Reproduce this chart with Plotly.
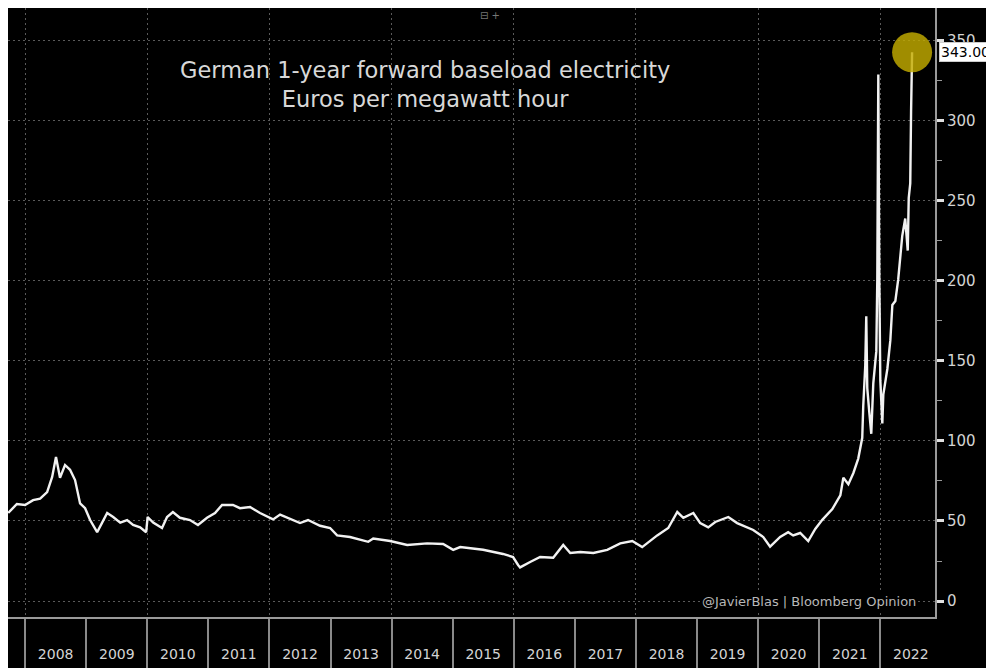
import plotly.graph_objects as go

dates = [
    "2007-09-22", "2007-11-13", "2008-01-01", "2008-02-18", "2008-03-31", "2008-05-12",
    "2008-06-11", "2008-07-04", "2008-07-28", "2008-08-27", "2008-09-26", "2008-10-26",
    "2008-11-25", "2008-12-25", "2009-01-24", "2009-03-07", "2009-04-06", "2009-05-06",
    "2009-06-11", "2009-07-23", "2009-09-02", "2009-10-08", "2009-11-19", "2009-12-25",
    "2010-01-03", "2010-02-05", "2010-03-30", "2010-04-29", "2010-06-03", "2010-07-15",
    "2010-09-13", "2010-10-31", "2010-12-24", "2011-02-10", "2011-03-24", "2011-05-28",
    "2011-07-09", "2011-08-26", "2011-09-07", "2011-11-06", "2012-01-23", "2012-03-05",
    "2012-07-02", "2012-08-19", "2012-10-30", "2012-12-29", "2013-02-09", "2013-04-27",
    "2013-08-14", "2013-09-13", "2013-12-23", "2014-04-04", "2014-08-01", "2014-11-05",
    "2015-01-04", "2015-02-15", "2015-07-02", "2015-10-29", "2015-12-28", "2016-01-27",
    "2016-02-08", "2016-04-08", "2016-06-07", "2016-08-24", "2016-10-23", "2016-12-04",
    "2017-02-02", "2017-04-21", "2017-07-13", "2017-09-29", "2017-12-10", "2018-02-07",
    "2018-05-08", "2018-07-13", "2018-09-05", "2018-10-11", "2018-12-10", "2019-01-20",
    "2019-03-09", "2019-04-20", "2019-07-07", "2019-08-29", "2019-12-03", "2020-02-01",
    "2020-03-13", "2020-05-12", "2020-06-29", "2020-07-29", "2020-09-09", "2020-10-27",
    "2020-12-08", "2021-01-19", "2021-03-20", "2021-05-07", "2021-05-25", "2021-06-24",
    "2021-07-24", "2021-08-22", "2021-09-15", "2021-09-21", "2021-10-03", "2021-10-09",
    "2021-10-15", "2021-10-27", "2021-11-08", "2021-11-20", "2021-12-08", "2021-12-14",
    "2021-12-20", "2021-12-26", "2022-01-01", "2022-01-13", "2022-01-19", "2022-02-12",
    "2022-03-02", "2022-03-14", "2022-04-01", "2022-04-18", "2022-05-12", "2022-05-30",
    "2022-06-14", "2022-06-20", "2022-06-29", "2022-07-04", "2022-07-10",
]

values = [
    55.0, 60.6, 60.0, 63.0, 64.0, 68.0,
    77.5, 90.0, 77.0, 85.0, 82.0, 75.6,
    61.0, 58.0, 50.6, 43.0, 49.0, 55.0,
    52.5, 49.0, 50.6, 47.5, 46.0, 43.0,
    52.5, 49.0, 45.6, 52.5, 55.6, 52.0,
    50.6, 47.5, 52.0, 55.0, 60.0, 60.0,
    58.0, 58.7, 58.7, 55.0, 51.0, 54.0,
    48.7, 50.6, 47.0, 45.6, 41.0, 40.0,
    37.0, 39.0, 37.5, 35.0, 36.0, 35.6,
    32.0, 33.7, 32.0, 29.4, 27.5, 22.5,
    21.0, 24.4, 27.5, 27.0, 35.0, 30.0,
    30.6, 30.0, 32.0, 36.0, 37.5, 33.7,
    41.0, 45.6, 55.6, 52.0, 55.0, 48.7,
    46.0, 49.4, 52.5, 48.7, 44.4, 40.0,
    34.0, 40.0, 43.0, 41.0, 42.5, 37.5,
    45.0, 50.7, 57.4, 66.0, 77.0, 73.0,
    80.0, 89.0, 102.0, 122.0, 147.0, 178.0,
    133.0, 118.0, 104.5, 136.0, 156.0, 201.0,
    329.0, 201.0, 138.0, 111.0, 129.0, 145.0,
    163.0, 185.0, 187.5, 201.0, 228.0, 239.0,
    219.0, 252.0, 261.0, 306.0, 343.0,
]

y_ticks = [0, 50, 100, 150, 200, 250, 300, 350]

title_text = "German 1-year forward baseload electricity<br>Euros per megawatt hour"
source_text = "@JavierBlas | Bloomberg Opinion"

x_range = ["2007-09-21", "2022-11-24"]
y_range = [-10, 370.6]

fig = go.Figure()

fig.add_trace(go.Scatter(
    x=dates, y=values, mode="lines",
    line=dict(color="#f2f2f2", width=2.4),
    hoverinfo="skip", showlegend=False, xaxis="x", yaxis="y",
))

fig.add_trace(go.Scatter(
    x=[dates[-1]], y=[values[-1]], mode="markers",
    marker=dict(size=40, color="rgba(195,172,0,0.82)", line=dict(width=0)),
    hoverinfo="skip", showlegend=False, xaxis="x", yaxis="y",
))

# invisible trace for the year-label axis
fig.add_trace(go.Scatter(
    x=[dates[0], dates[-1]], y=[values[0], values[-1]], mode="markers",
    marker=dict(size=1, color="rgba(0,0,0,0)"),
    hoverinfo="skip", showlegend=False, xaxis="x2", yaxis="y",
))

fig.update_layout(
    width=986, height=660,
    paper_bgcolor="black", plot_bgcolor="black",
    margin=dict(l=0, r=59, t=0, b=51),
    font=dict(family="DejaVu Sans, sans-serif", color="#d0d0d0"),
    xaxis=dict(
        type="date", range=x_range,
        showline=True, linecolor="#9a9a9a", linewidth=2,
        showgrid=True, gridcolor="#5a5a5a", griddash="2px,3px", gridwidth=1,
        dtick="M24", tick0="2008-01-01",
        ticks="outside", ticklen=52, tickwidth=2, tickcolor="#8a8a8a",
        minor=dict(dtick="M12", tick0="2008-01-01", ticks="outside", ticklen=52,
                   tickwidth=2, tickcolor="#8a8a8a", showgrid=False),
        showticklabels=False, zeroline=False,
    ),
    xaxis2=dict(
        type="date", matches="x", overlaying="x", anchor="y", side="bottom",
        showgrid=False, showline=False, zeroline=False,
        dtick="M12", tick0="2008-01-01", tickformat="%Y", ticklabelmode="period",
        ticks="outside", ticklen=24, tickcolor="rgba(0,0,0,0)",
        tickfont=dict(size=14, color="#d4d4d4"),
    ),
    yaxis=dict(
        side="right", range=y_range, tickvals=y_ticks,
        showline=True, linecolor="#9a9a9a", linewidth=2,
        showgrid=True, gridcolor="#5a5a5a", griddash="2px,3px", gridwidth=1,
        ticks="outside", ticklen=7, tickwidth=3, tickcolor="#e0e0e0",
        minor=dict(dtick=25, ticks="outside", ticklen=5, tickwidth=1, tickcolor="#9a9a9a",
                   showgrid=False),
        tickfont=dict(size=15, color="#d4d4d4"),
        zeroline=False,
    ),
    annotations=[
        dict(text=title_text, xref="paper", yref="paper", x=0.450, y=0.874,
             xanchor="center", yanchor="middle", showarrow=False,
             font=dict(size=22.5, color="#d8d8d8")),
        dict(text=source_text, xref="paper", yref="y", x=0.982, y=0,
             xanchor="right", yanchor="middle", showarrow=False, bgcolor="black",
             font=dict(size=13, color="#b8b8b8")),
        dict(text=f"{values[-1]:.2f}", xref="paper", yref="y", x=1, y=values[-1],
             xanchor="left", yanchor="middle", xshift=4, showarrow=False,
             bgcolor="white", bordercolor="#cccccc", borderpad=1,
             font=dict(size=14, color="black")),
        dict(text="⊟ +", xref="paper", yref="paper", x=0.52, y=0.9885,
             xanchor="center", yanchor="middle", showarrow=False,
             font=dict(size=10, color="#777777")),
    ],
)

fig.write_html("out.html")
